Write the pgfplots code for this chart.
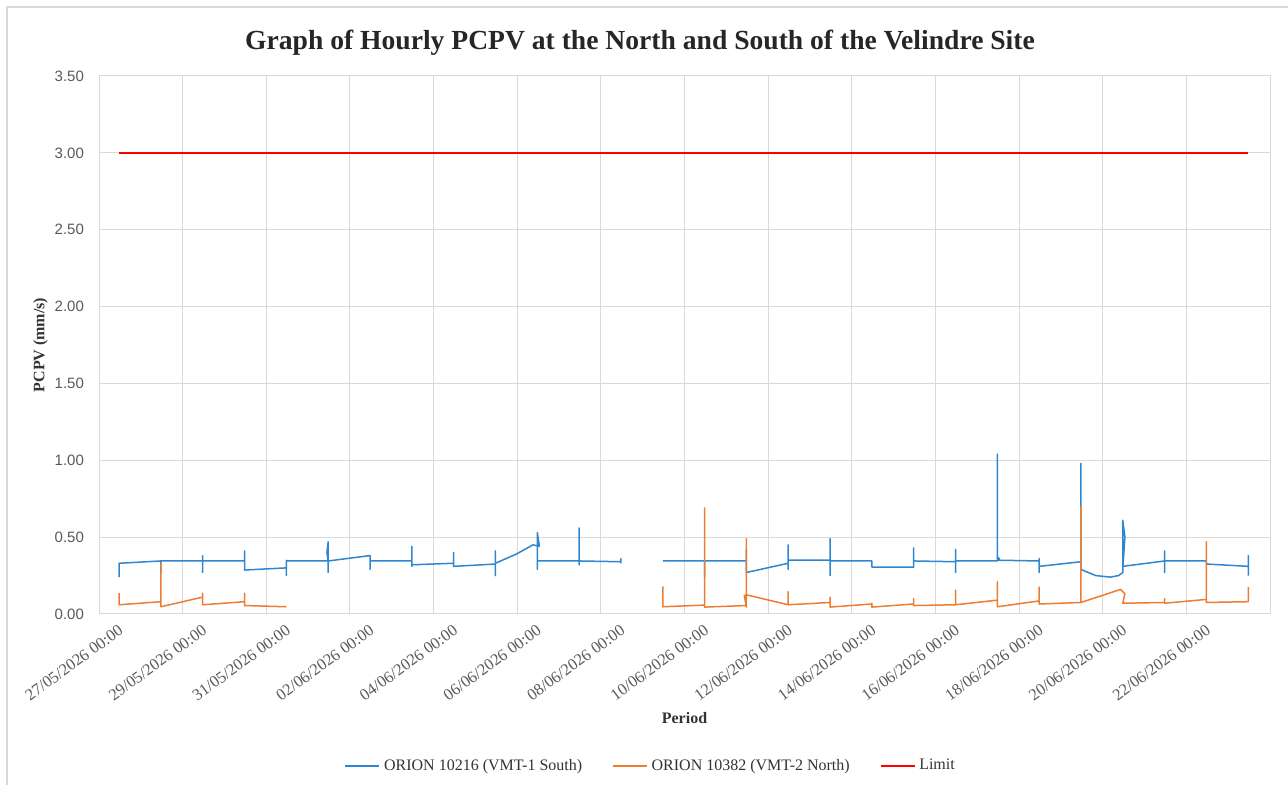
\documentclass[border=0pt]{standalone}
\usepackage{fontspec}
\setmainfont{Liberation Serif}
\newfontfamily\tickfont{Liberation Sans}
\usepackage{pgfplots}
\pgfplotsset{compat=1.18}
\definecolor{southBlue}{HTML}{2E86D1}
\definecolor{northOrange}{HTML}{ED7D31}
\definecolor{limitRed}{HTML}{FF0000}
\definecolor{gridGrey}{HTML}{D9D9D9}
\definecolor{textGrey}{HTML}{595959}

\begin{document}
\begin{tikzpicture}
% page = 1288x785 px at 0.5pt per px, origin at plot lower-left
\path[use as bounding box] (-49.5pt,-85.5pt) rectangle (594.5pt,307pt);
\draw[gridGrey,line width=0.6pt] (-46pt,-86pt) -- (-46pt,303.5pt) -- (595pt,303.5pt);
\begin{axis}[
  at={(0pt,0pt)},anchor=south west,
  scale only axis,width=585.5pt,height=269pt,
  xmin=-0.48,xmax=27.52,ymin=0,ymax=3.5,
  axis line style={gridGrey,line width=0.5pt},
  major tick length=0pt,
  xtick={0,2,...,26},
  xticklabels={27/05/2026 00:00,29/05/2026 00:00,31/05/2026 00:00,02/06/2026 00:00,
    04/06/2026 00:00,06/06/2026 00:00,08/06/2026 00:00,10/06/2026 00:00,
    12/06/2026 00:00,14/06/2026 00:00,16/06/2026 00:00,18/06/2026 00:00,
    20/06/2026 00:00,22/06/2026 00:00},
  xticklabel style={rotate=36,anchor=east,yshift=-6.5pt,xshift=0pt,
    font=\fontsize{8.2}{9}\selectfont,color=textGrey},
  extra x ticks={-0.48,1.52,3.52,5.52,7.52,9.52,11.52,13.52,15.52,17.52,19.52,21.52,23.52,25.52,27.52},
  extra x tick labels={},
  extra x tick style={grid=major},
  ytick={0,0.5,...,3.5},
  ymajorgrids=true,
  major grid style={gridGrey,line width=0.5pt},
  /pgf/number format/assume math mode=true,
  yticklabel style={/pgf/number format/.cd,fixed,fixed zerofill,precision=2,/tikz/.cd,
    font=\tickfont\fontsize{7.5}{9}\selectfont,color=textGrey,xshift=-4pt},
  xlabel={\textbf{Period}},
  xlabel style={at={(axis description cs:0.5,-0.193)},anchor=center,
    font=\fontsize{8}{9}\selectfont,color=black!80},
  ylabel={\textbf{PCPV (mm/s)}},
  ylabel style={at={(axis description cs:-0.050,0.5)},anchor=center,
    font=\fontsize{8}{9}\selectfont,color=black!80},
  every axis title shift=0pt,
  title={\textbf{Graph of Hourly PCPV at the North and South of the Velindre Site}},
  title style={at={(axis description cs:0.462,1.062)},anchor=center,
    font=\fontsize{13.8}{15}\selectfont,color=black!85},
  legend style={at={(axis description cs:0.472,-0.2825)},anchor=center,draw=none,
    fill=none,font=\fontsize{8}{9}\selectfont,text=black!80,
    /tikz/every even column/.append style={column sep=13pt}},
  legend columns=3,
  legend image code/.code={\draw[#1] (0pt,0pt) -- (17pt,0pt);},
  unbounded coords=jump,
  every axis plot/.append style={line width=0.75pt,line join=round},
]
\addplot[southBlue] coordinates {
  (0,0.24)(0,0.33)
  (1,0.345)(1,0.27)(1,0.345)
  (2,0.345)(2,0.38)(2,0.27)(2,0.345)
  (3,0.345)(3,0.41)(3,0.286)
  (4,0.30)(4,0.35)(4,0.25)(4,0.345)
  (5,0.345)(4.97,0.40)(5,0.47)(5,0.27)(5,0.345)
  (6,0.38)(6,0.29)(6,0.345)
  (7,0.345)(7,0.44)(7,0.31)(7,0.32)
  (8,0.33)(8,0.40)(8,0.31)
  (9,0.325)(9,0.41)(9,0.25)(9,0.33)
  (9.5,0.39)(9.9,0.45)(10.05,0.44)(10,0.53)(10,0.29)(10,0.345)
  (11,0.345)(11,0.56)(11,0.32)(11,0.345)
  (12,0.34)(12,0.36)(12,0.33)
  (12.5,nan)
  (13,0.345)
  (14,0.345)(14,0.24)(14,0.345)
  (15,0.345)(15,0.42)(15,0.27)
  (16,0.33)(16,0.45)(16,0.29)(16,0.35)
  (17,0.35)(17,0.49)(17,0.25)(17,0.345)
  (18,0.345)(18,0.305)
  (19,0.305)(19,0.43)(19,0.305)(19,0.345)
  (20,0.34)(20,0.42)(20,0.27)(20,0.345)
  (21,0.345)(21,1.04)(21,0.37)(21.05,0.36)(21,0.35)
  (22,0.345)(22,0.36)(22,0.27)(22,0.31)
  (23,0.34)(23,0.98)(23,0.29)
  (23.35,0.25)(23.7,0.24)(23.9,0.25)(24,0.27)(24,0.61)(24.05,0.50)(24,0.30)(24,0.31)
  (25,0.345)(25,0.41)(25,0.27)(25,0.345)
  (26,0.345)(26,0.325)
  (27,0.31)(27,0.38)(27,0.25)
};
\addlegendentry{ORION 10216 (VMT-1 South)}
\addplot[northOrange] coordinates {
  (0,0.135)(0,0.06)
  (1,0.08)(1,0.33)(1,0.047)
  (2,0.11)(2,0.135)(2,0.06)
  (3,0.08)(3,0.135)(3,0.055)
  (4,0.047)
  (4.5,nan)
  (13,0.18)(13,0.047)
  (14,0.058)(14,0.69)(14,0.045)
  (15,0.055)(15,0.49)(15,0.045)(14.95,0.12)(15,0.125)
  (16,0.06)(16,0.145)(16,0.06)
  (17,0.075)(17,0.11)(17,0.045)
  (18,0.065)(18,0.07)(18,0.045)
  (19,0.065)(19,0.10)(19,0.055)
  (20,0.06)(20,0.155)(20,0.06)
  (21,0.09)(21,0.21)(21,0.047)
  (22,0.085)(22,0.175)(22,0.065)
  (23,0.075)(23,0.70)(23,0.075)
  (23.95,0.16)(24.05,0.13)(24,0.07)
  (25,0.075)(25,0.10)(25,0.07)
  (26,0.095)(26,0.47)(26,0.075)
  (27,0.08)(27,0.175)
};
\addlegendentry{ORION 10382 (VMT-2 North)}
\addplot[limitRed] coordinates {(0,3)(27,3)};
\addlegendentry{Limit}
\end{axis}
\end{tikzpicture}
\end{document}
